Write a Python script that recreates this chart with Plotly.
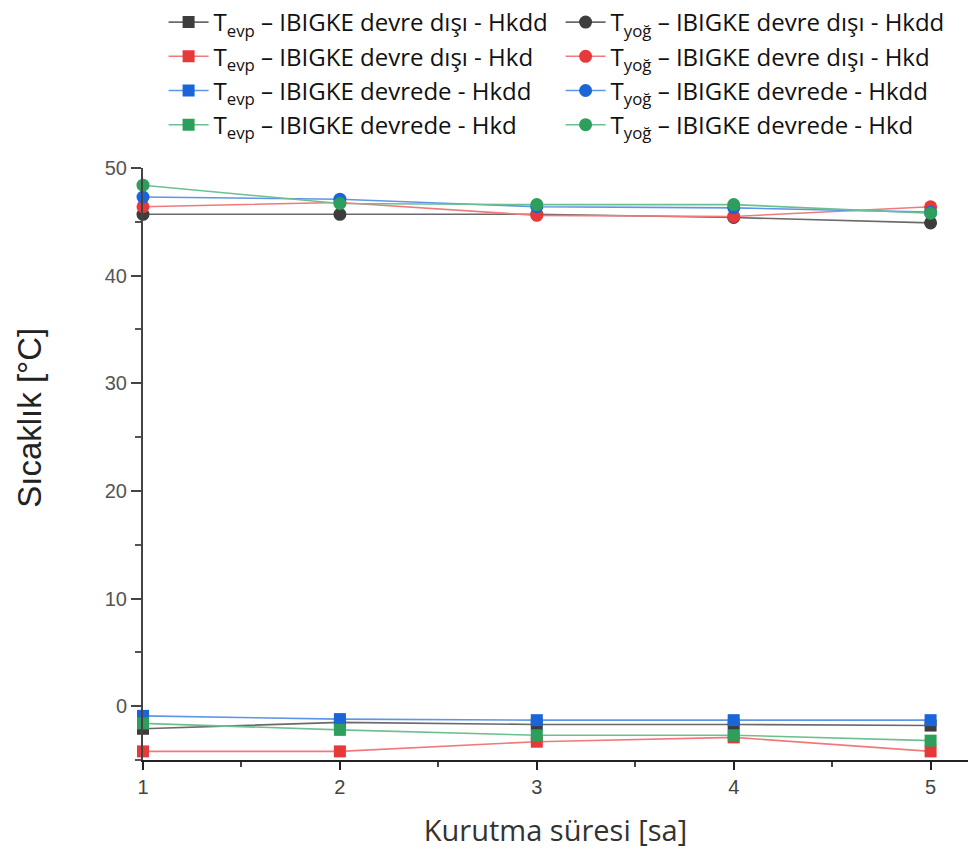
import plotly.graph_objects as go

x = [1, 2, 3, 4, 5]

tevp_disi_hkdd = [-2.1, -1.5, -1.7, -1.7, -1.8]
tyog_disi_hkdd = [45.7, 45.7, 45.7, 45.4, 44.9]
tevp_disi_hkd = [-4.2, -4.2, -3.3, -2.9, -4.2]
tyog_disi_hkd = [46.4, 46.8, 45.6, 45.5, 46.4]
tevp_devrede_hkdd = [-0.9, -1.2, -1.3, -1.3, -1.3]
tyog_devrede_hkdd = [47.3, 47.1, 46.4, 46.3, 45.9]
tevp_devrede_hkd = [-1.6, -2.2, -2.7, -2.7, -3.2]
tyog_devrede_hkd = [48.4, 46.7, 46.6, 46.6, 45.8]

names = [
    "T<sub>evp</sub> – IBIGKE devre dışı - Hkdd",
    "T<sub>yoğ</sub> – IBIGKE devre dışı - Hkdd",
    "T<sub>evp</sub> – IBIGKE devre dışı - Hkd",
    "T<sub>yoğ</sub> – IBIGKE devre dışı - Hkd",
    "T<sub>evp</sub> – IBIGKE devrede - Hkdd",
    "T<sub>yoğ</sub> – IBIGKE devrede - Hkdd",
    "T<sub>evp</sub> – IBIGKE devrede - Hkd",
    "T<sub>yoğ</sub> – IBIGKE devrede - Hkd",
]
series = [tevp_disi_hkdd, tyog_disi_hkdd, tevp_disi_hkd, tyog_disi_hkd,
          tevp_devrede_hkdd, tyog_devrede_hkdd, tevp_devrede_hkd, tyog_devrede_hkd]
marker_colors = ["#3d3d3d", "#3d3d3d", "#e8393a", "#e8393a",
                 "#1a66d9", "#1a66d9", "#2e9e5c", "#2e9e5c"]
line_colors = ["#6a6a6a", "#6a6a6a", "#f07a7b", "#f07a7b",
               "#5f95e6", "#5f95e6", "#6cc08f", "#6cc08f"]

fig = go.Figure()
for i, (nm, ys) in enumerate(zip(names, series)):
    fig.add_trace(go.Scatter(
        x=x, y=ys, name=nm, mode="lines+markers",
        line=dict(color=line_colors[i], width=1.6),
        marker=dict(symbol="square" if i % 2 == 0 else "circle",
                    size=12 if i % 2 == 0 else 13,
                    color=marker_colors[i]),
        cliponaxis=False,
    ))

fig.update_layout(
    width=968, height=860,
    margin=dict(l=143, r=0, t=168, b=100, autoexpand=False),
    plot_bgcolor="white", paper_bgcolor="white",
    showlegend=True,
    legend=dict(orientation="h", xref="container", x=0.169, xanchor="left",
                yref="container", y=1.0, yanchor="top",
                entrywidth=342, entrywidthmode="pixels",
                font=dict(family="Open Sans", size=24, color="#111"),
                itemwidth=40, bgcolor="rgba(0,0,0,0)"),
    font=dict(family="Liberation Sans"),
    annotations=[dict(text="Sıcaklık [°C]", xref="paper", yref="paper",
                      x=-0.137, y=0.578, xanchor="center", yanchor="middle",
                      textangle=-90, showarrow=False,
                      font=dict(size=33, color="#222", family="Liberation Sans"))],
)

fig.update_xaxes(range=[1, 5.19], tickvals=[1, 2, 3, 4, 5],
                 showgrid=False, zeroline=False,
                 showline=True, linecolor="#222", linewidth=2,
                 ticks="outside", ticklen=8, tickwidth=2, tickcolor="#222",
                 minor=dict(ticks="outside", ticklen=5, tickwidth=1.5, tickcolor="#444", dtick=0.5),
                 tickfont=dict(size=20, color="#444", family="Liberation Sans"),
                 title=dict(text="Kurutma süresi [sa]", font=dict(size=29, color="#333", family="Open Sans"), standoff=24))
fig.update_yaxes(range=[-5, 50], tickvals=[0, 10, 20, 30, 40, 50],
                 showgrid=False, zeroline=False,
                 showline=True, linecolor="#444", linewidth=2,
                 ticks="outside", ticklen=10, tickwidth=2, tickcolor="#444",
                 minor=dict(ticks="outside", ticklen=6, tickwidth=1.5, tickcolor="#555", tickvals=[-5, 5, 15, 25, 35, 45]),
                 tickfont=dict(size=20, color="#555", family="Liberation Sans"))

fig.write_html("out.html")
